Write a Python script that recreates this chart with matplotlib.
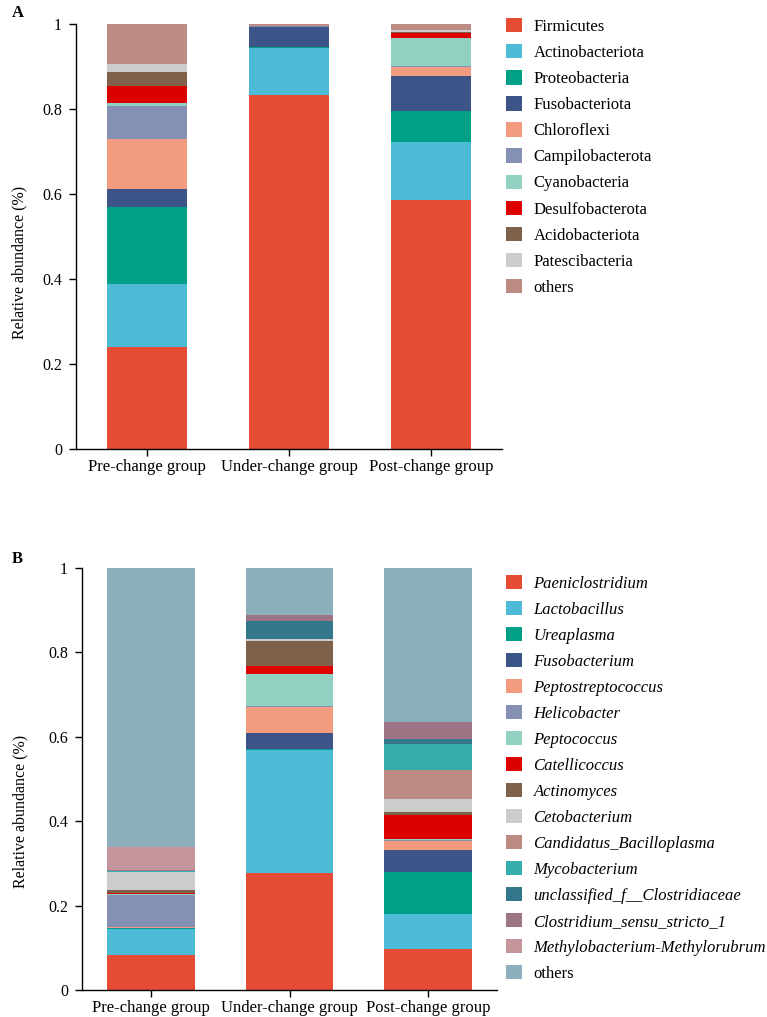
import matplotlib
matplotlib.use('Agg')
import matplotlib.pyplot as plt
from matplotlib.patches import Patch
import numpy as np

plt.rcParams['font.family'] = ['Liberation Serif', 'DejaVu Serif']

############# data ###############
groups = ['Pre-change group', 'Under-change group', 'Post-change group']

# panel A: phylum level
phyla = ['Firmicutes', 'Actinobacteriota', 'Proteobacteria', 'Fusobacteriota',
         'Chloroflexi', 'Campilobacterota', 'Cyanobacteria', 'Desulfobacterota',
         'Acidobacteriota', 'Patescibacteria', 'others']
phyla_colors = ['#E64B35', '#4DBBD5', '#00A087', '#3C5488', '#F39B7F', '#8491B4',
                '#91D1C2', '#DC0000', '#7E6148', '#CCCCCC', '#BC8B83']
pre_a = [0.239, 0.149, 0.181, 0.042, 0.118, 0.078, 0.008, 0.038, 0.033, 0.020, 0.094]
under_a = [0.833, 0.110, 0.004, 0.045, 0.001, 0.003, 0.000, 0.000, 0.000, 0.000, 0.004]
post_a = [0.586, 0.136, 0.074, 0.082, 0.022, 0.002, 0.066, 0.012, 0.002, 0.003, 0.015]

# panel B: genus level
genera = ['Paeniclostridium', 'Lactobacillus', 'Ureaplasma', 'Fusobacterium',
          'Peptostreptococcus', 'Helicobacter', 'Peptococcus', 'Catellicoccus',
          'Actinomyces', 'Cetobacterium', 'Candidatus_Bacilloplasma', 'Mycobacterium',
          'unclassified_f__Clostridiaceae', 'Clostridium_sensu_stricto_1',
          'Methylobacterium-Methylorubrum', 'others']
genera_colors = ['#E64B35', '#4DBBD5', '#00A087', '#3C5488', '#F39B7F', '#8491B4',
                 '#91D1C2', '#DC0000', '#7E6148', '#CCCCCC', '#BC8B83', '#35AEAD',
                 '#33788A', '#9E7584', '#C5959C', '#8CAFBB']
pre_b = [0.083, 0.061, 0.002, 0.002, 0.002, 0.075, 0.002, 0.004, 0.006, 0.042,
         0.001, 0.001, 0.002, 0.001, 0.054, 0.662]
under_b = [0.278, 0.291, 0.001, 0.040, 0.061, 0.003, 0.076, 0.018, 0.058, 0.005,
           0.000, 0.000, 0.044, 0.014, 0.000, 0.111]
post_b = [0.096, 0.084, 0.100, 0.052, 0.022, 0.002, 0.003, 0.056, 0.007, 0.030,
          0.069, 0.061, 0.012, 0.040, 0.000, 0.366]

W, H = 767, 1017
fig = plt.figure(figsize=(W / 100, H / 100), dpi=100)


def px_axes(l, r, b, t):
    return fig.add_axes([l / W, 1 - b / H, (r - l) / W, (b - t) / H])


def stacked(ax, table, colors, width):
    x = np.arange(len(groups))
    bottom = np.zeros(len(groups))
    for i, c in enumerate(colors):
        vals = np.array([col[i] for col in table])
        ax.bar(x, vals, width, bottom=bottom, color=c, linewidth=0)
        bottom += vals
    ax.set_xlim(-0.5, 2.5)
    ax.set_ylim(0, 1)
    ax.set_xticks(x)
    ax.set_xticklabels(groups, fontsize=12)
    ax.set_yticks([0, 0.2, 0.4, 0.6, 0.8, 1])
    ax.set_yticklabels(['0', '0.2', '0.4', '0.6', '0.8', '1'], fontsize=11.5)
    ax.tick_params(axis='y', length=5, width=1, pad=5)
    ax.tick_params(axis='x', length=5, width=1, pad=2)
    for s in ['top', 'right']:
        ax.spines[s].set_visible(False)
    for s in ['left', 'bottom']:
        ax.spines[s].set_linewidth(1)


############# panel A ###############
axA = px_axes(76, 502, 449, 24)
stacked(axA, [pre_a, under_a, post_a], phyla_colors, 0.563)
axA.set_ylabel('Relative abundance (%)', fontsize=11.5)
axA.yaxis.set_label_coords(-0.113, 0.44)
hA = [Patch(facecolor=c, edgecolor='none') for c in phyla_colors]
fig.legend(hA, phyla, loc='upper left', bbox_to_anchor=(506 / W, 1 - 18 / H),
           frameon=False, fontsize=12, handlelength=0.95, handleheight=0.95,
           handletextpad=0.7, labelspacing=0.55, borderpad=0, borderaxespad=0)
fig.text(12 / W, 1 - 13 / H, 'A', fontsize=12, fontweight='bold', va='center')

############# panel B ###############
axB = px_axes(82, 497, 990, 568)
stacked(axB, [pre_b, under_b, post_b], genera_colors, 0.635)
axB.set_ylabel('Relative abundance (%)', fontsize=11.5)
axB.yaxis.set_label_coords(-0.13, 0.424)
hB = [Patch(facecolor=c, edgecolor='none') for c in genera_colors]
legB = fig.legend(hB, genera, loc='upper left', bbox_to_anchor=(506 / W, 1 - 575 / H),
                  frameon=False, fontsize=12, handlelength=0.95, handleheight=0.95,
                  handletextpad=0.7, labelspacing=0.545, borderpad=0, borderaxespad=0)
for t in legB.get_texts()[:-1]:
    t.set_fontstyle('italic')
fig.text(12 / W, 1 - 559 / H, 'B', fontsize=12, fontweight='bold', va='center')

plt.savefig('out.png', dpi=100)
